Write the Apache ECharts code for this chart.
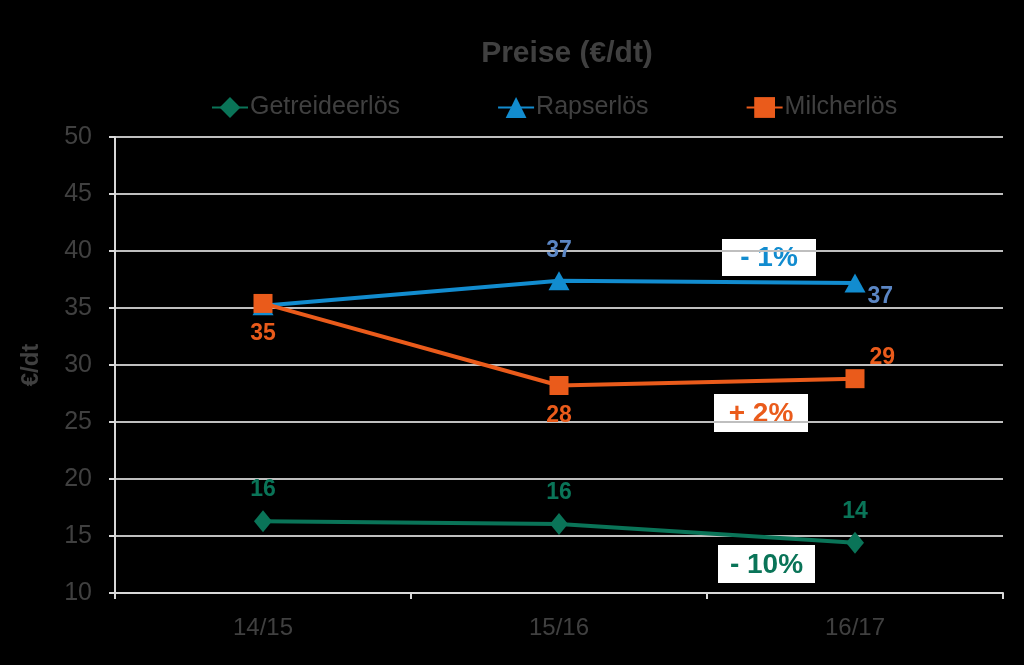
<!DOCTYPE html>
<html>
<head>
<meta charset="utf-8">
<script src="https://cdn.jsdelivr.net/npm/echarts@6/dist/echarts.min.js"></script>
<style>
  html, body { margin: 0; padding: 0; background: #000; }
  #chart { width: 1024px; height: 665px; }
</style>
</head>
<body>
<div id="chart"></div>
<script>
// Daten
const years = ['14/15', '15/16', '16/17'];
const getreide = [16.3, 16.05, 14.4];
const raps = [35.2, 37.4, 37.2];
const milch = [35.4, 28.2, 28.8];
const yTicks = [10, 15, 20, 25, 30, 35, 40, 45, 50];
const changes = ['- 1%', '+ 2%', '- 10%'];

const font = "'Liberation Sans Narrow', 'Liberation Sans', Arial, sans-serif";
const colors = {
  getreide: '#0A7458',
  raps: '#128CCF',
  rapsLabel: '#5B86C4',
  milch: '#EA5B1B',
  text: '#404040'
};

const chart = echarts.init(document.getElementById('chart'));

function lbl(color, position, offset) {
  return {
    show: true, position: position, offset: offset || [0, 0],
    color: color, fontSize: 23, fontWeight: 'bold', fontFamily: font,
    formatter: p => Math.round(p.value)
  };
}

const option = {
  backgroundColor: '#000',
  animation: false,
  title: {
    text: 'Preise (€/dt)',
    left: 562, top: 34, textAlign: 'center',
    textStyle: { color: colors.text, fontSize: 30, fontWeight: 'bold', fontFamily: font }
  },
  legend: {
    top: 90, left: 206, itemGap: 97, itemWidth: 36, itemHeight: 26,
    textStyle: { color: colors.text, fontSize: 25, fontFamily: font, padding: [0, 0, 0, -3] },
    data: ['Getreideerlös', 'Rapserlös', 'Milcherlös']
  },
  grid: { left: 115, right: 21, top: 137, bottom: 72 },
  xAxis: {
    type: 'category',
    data: years,
    boundaryGap: true,
    axisLine: { lineStyle: { color: '#d9d9d9', width: 2 } },
    axisTick: { show: true, length: 6, lineStyle: { color: '#d9d9d9', width: 2 } },
    axisLabel: { color: colors.text, fontSize: 24, fontFamily: font, margin: 23 }
  },
  yAxis: {
    type: 'value',
    min: yTicks[0], max: yTicks[yTicks.length - 1], interval: 5,
    name: '€/dt', nameLocation: 'middle', nameGap: 72, nameRotate: 90,
    nameTextStyle: { color: colors.text, fontSize: 24, fontWeight: 'bold', fontFamily: font },
    axisLine: { show: true, lineStyle: { color: '#d9d9d9', width: 2 } },
    axisTick: { show: true, length: 6, lineStyle: { color: '#d9d9d9', width: 2 } },
    axisLabel: { color: colors.text, fontSize: 25, fontFamily: font, margin: 23 },
    splitLine: { lineStyle: { color: '#bfbfbf', width: 2 } }
  },
  series: [
    {
      name: 'Getreideerlös', type: 'line', data: getreide,
      symbol: 'diamond', symbolSize: [18, 22],
      lineStyle: { color: colors.getreide, width: 4 },
      itemStyle: { color: colors.getreide },
      label: lbl(colors.getreide, 'top', [0, -4])
    },
    {
      name: 'Rapserlös', type: 'line',
      symbol: 'triangle', symbolSize: [21, 19],
      lineStyle: { color: colors.raps, width: 4 },
      itemStyle: { color: colors.raps },
      data: raps.map((v, i) => ({
        value: v,
        label: i === 0 ? { show: false }
          : i === 1 ? lbl(colors.rapsLabel, 'top', [0, -4])
          : lbl(colors.rapsLabel, [23, 12])
      }))
    },
    {
      name: 'Milcherlös', type: 'line',
      symbol: 'rect', symbolSize: 19,
      lineStyle: { color: colors.milch, width: 4 },
      itemStyle: { color: colors.milch },
      data: milch.map((v, i) => ({
        value: v,
        label: i < 2 ? lbl(colors.milch, 'bottom', [0, 4])
          : lbl(colors.milch, 'right', [0, -21])
      }))
    }
  ],
  graphic: [
    { box: [722, 239, 94, 37], color: colors.raps, text: changes[0] },
    { box: [714, 394, 94, 38], color: colors.milch, text: changes[1] },
    { box: [718, 545, 97, 38], color: colors.getreide, text: changes[2] }
  ].map(a => ({
    type: 'group', left: a.box[0], top: a.box[1],
    children: [
      { type: 'rect', shape: { width: a.box[2], height: a.box[3] }, style: { fill: '#fff' } },
      {
        type: 'text', x: a.box[2] / 2, y: a.box[3] / 2 + 1,
        style: {
          text: a.text, fill: a.color, fontSize: 28, fontWeight: 'bold', fontFamily: font,
          align: 'center', verticalAlign: 'middle'
        }
      }
    ]
  }))
};

chart.setOption(option);
</script>
</body>
</html>
